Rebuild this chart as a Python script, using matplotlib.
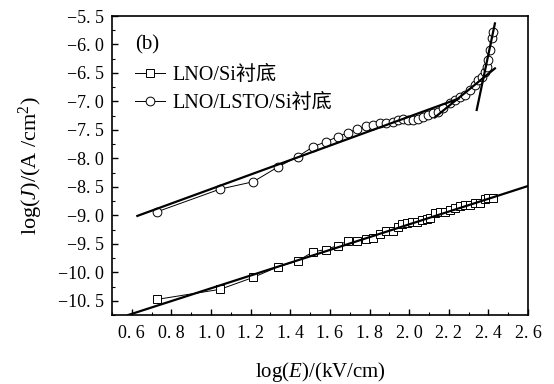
import matplotlib
matplotlib.use("Agg")
import matplotlib.pyplot as plt
from matplotlib.ticker import MultipleLocator, FixedLocator, FixedFormatter

plt.rcParams['font.family'] = ['Liberation Serif', 'Noto Sans CJK SC']
plt.rcParams['mathtext.fontset'] = 'custom'
plt.rcParams['mathtext.rm'] = 'Liberation Serif'
plt.rcParams['mathtext.it'] = 'Liberation Serif:italic'

# LNO/Si substrate (squares)
x_si = [0.729, 1.045, 1.213, 1.34, 1.437, 1.516, 1.58, 1.639, 1.69, 1.735,
        1.78, 1.816, 1.853, 1.883, 1.917, 1.945, 1.962, 1.988, 2.013, 2.038,
        2.063, 2.089, 2.105, 2.131, 2.156, 2.181, 2.206, 2.231, 2.257, 2.282,
        2.307, 2.332, 2.358, 2.383, 2.40, 2.425]
y_si = [-10.475, -10.30, -10.09, -9.90, -9.80, -9.64, -9.60, -9.53, -9.45, -9.45,
        -9.42, -9.40, -9.32, -9.28, -9.28, -9.20, -9.15, -9.13, -9.11, -9.11,
        -9.08, -9.07, -9.04, -8.965, -8.95, -8.94, -8.91, -8.87, -8.84, -8.82,
        -8.81, -8.79, -8.78, -8.72, -8.69, -8.70]

# LNO/LSTO/Si substrate (circles)
x_lsto = [0.729, 1.045, 1.213, 1.34, 1.437, 1.516, 1.58, 1.639, 1.69, 1.735,
          1.78, 1.816, 1.853, 1.883, 1.917, 1.945, 1.97, 1.996, 2.021, 2.046,
          2.071, 2.097, 2.122, 2.147, 2.172, 2.206, 2.231, 2.257, 2.282, 2.307,
          2.332, 2.349, 2.366, 2.383, 2.392, 2.40, 2.408, 2.417, 2.425]
y_lsto = [-8.936, -8.54, -8.41, -8.146, -7.97, -7.795, -7.707, -7.62, -7.55, -7.49,
          -7.44, -7.41, -7.38, -7.37, -7.36, -7.33, -7.31, -7.33, -7.33, -7.30,
          -7.27, -7.24, -7.21, -7.18, -7.12, -7.03, -6.97, -6.92, -6.89, -6.80,
          -6.71, -6.62, -6.57, -6.48, -6.39, -6.27, -6.10, -5.89, -5.78]

# fitted straight segments (x0, x1), (y0, y1)
fit_si_x = [0.582, 2.60]
fit_si_y = [-10.75, -8.485]
fit_lsto1_x = [0.628, 2.25]
fit_lsto1_y = [-9.01, -6.95]
fit_lsto2_x = [2.13, 2.433]
fit_lsto2_y = [-7.28, -6.42]
fit_lsto3_x = [2.341, 2.433]
fit_lsto3_y = [-7.15, -5.63]

xticks = [0.6, 0.8, 1.0, 1.2, 1.4, 1.6, 1.8, 2.0, 2.2, 2.4, 2.6]
yticks = [-5.5, -6.0, -6.5, -7.0, -7.5, -8.0, -8.5, -9.0, -9.5, -10.0, -10.5]


def tick_text(v):
    return f"{v:.1f}".replace('.', '. ').replace('-', '\u2212')


fig = plt.figure(figsize=(5.54, 3.84), dpi=100)
ax = fig.add_axes([112 / 554, 1 - 315 / 384, 416 / 554, 299 / 384])

ax.plot(x_si, y_si, '-', color='black', lw=0.7, marker='s', ms=5.5,
        mfc='white', mec='black', mew=0.7, label='LNO/Si衬底')
ax.plot(x_lsto, y_lsto, '-', color='black', lw=0.7, marker='o', ms=6.3,
        mfc='white', mec='black', mew=0.7, label='LNO/LSTO/Si衬底')

for fx, fy in [(fit_si_x, fit_si_y), (fit_lsto1_x, fit_lsto1_y),
               (fit_lsto2_x, fit_lsto2_y), (fit_lsto3_x, fit_lsto3_y)]:
    ax.plot(fx, fy, '-', color='black', lw=1.6)

ax.set_xlim(0.5, 2.6)
ax.set_ylim(-10.75, -5.5)

ax.xaxis.set_major_locator(FixedLocator(xticks))
ax.xaxis.set_major_formatter(FixedFormatter([tick_text(v) for v in xticks]))
ax.xaxis.set_minor_locator(MultipleLocator(0.1))
ax.yaxis.set_major_locator(FixedLocator(yticks))
ax.yaxis.set_major_formatter(FixedFormatter([tick_text(v) for v in yticks]))
ax.yaxis.set_minor_locator(MultipleLocator(0.25))

ax.tick_params(which='both', direction='in', top=False, right=False, labelsize=13)
ax.tick_params(which='major', length=4, width=1)
ax.tick_params(which='minor', length=2.5, width=0.8)
ax.tick_params(axis='x', pad=7)
ax.tick_params(axis='y', pad=6)
for s in ax.spines.values():
    s.set_linewidth(1.2)

ax.set_xlabel('log($E$)/(kV/cm)', fontsize=15, labelpad=13)
ax.set_ylabel('log($J$)/(A /cm$^2$)', fontsize=16, labelpad=9)

ax.text(0.055, 0.905, '(b)', transform=ax.transAxes, fontsize=15, va='center')
ax.legend(loc='upper left', bbox_to_anchor=(23 / 416, 0.833), frameon=False,
          fontsize=14.5, handlelength=1.5, handletextpad=0.35, labelspacing=0.45,
          borderpad=0, borderaxespad=0)

fig.savefig('out.png', dpi=100)
